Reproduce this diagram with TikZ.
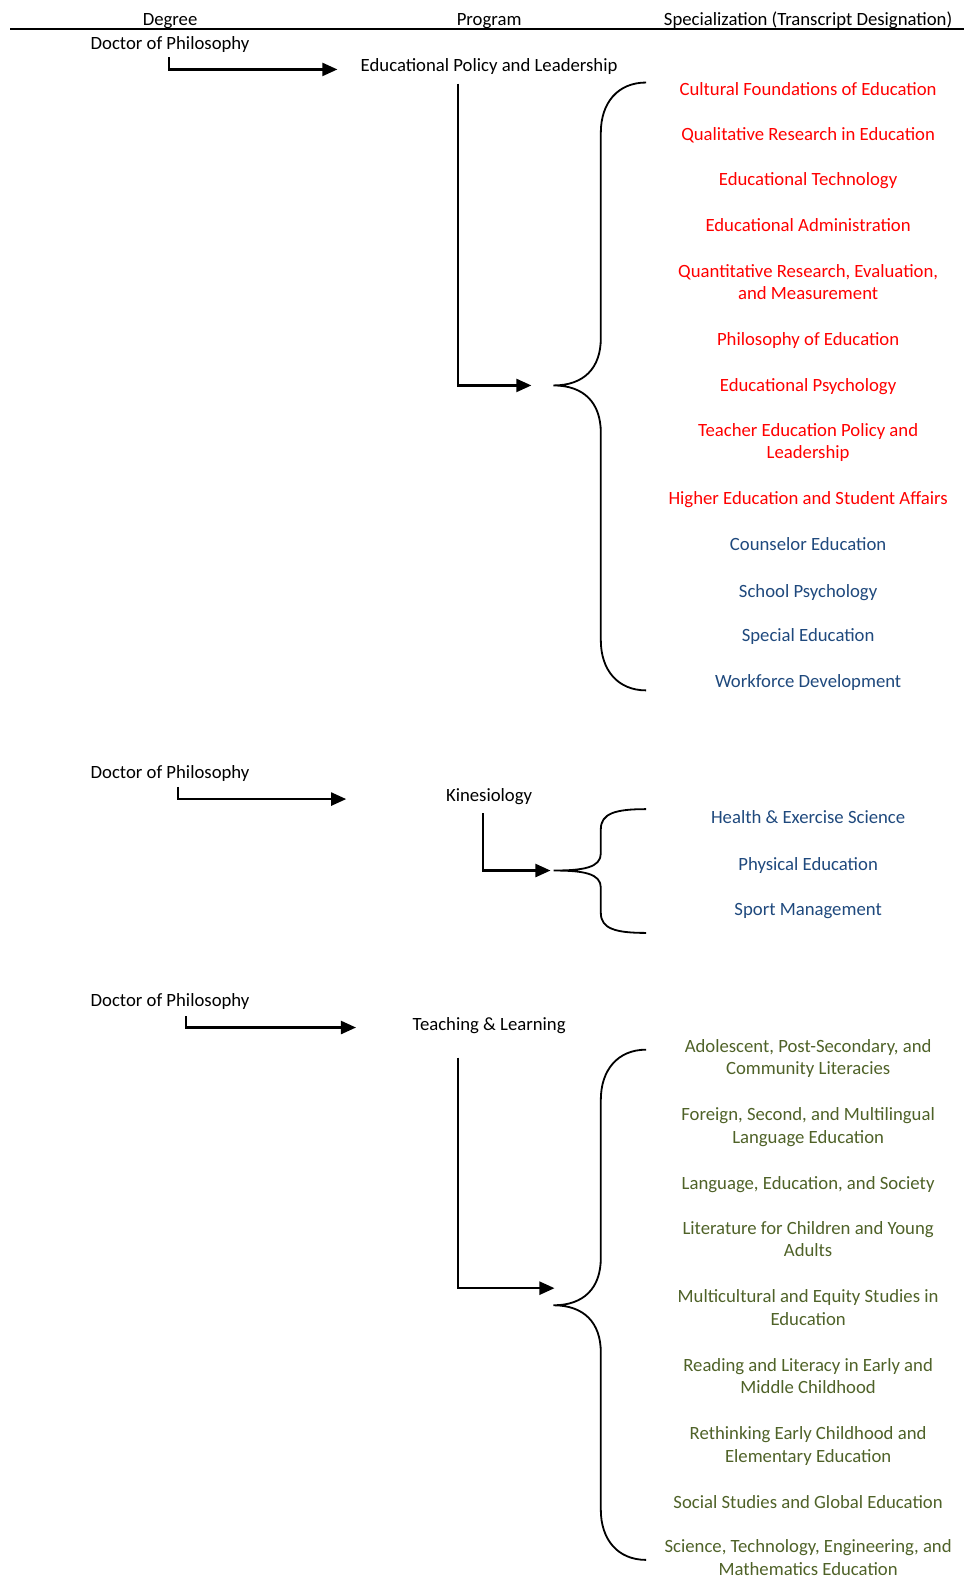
\documentclass[tikz,border=0pt]{standalone}
\usepackage{fontspec}
\setmainfont{Carlito}
\usetikzlibrary{arrows.meta}
\definecolor{specred}{RGB}{255,0,0}
\definecolor{specblue}{RGB}{31,73,125}
\definecolor{specgreen}{RGB}{79,98,40}
\tikzset{
  lbl/.style={font=\fontsize{18.6}{22.5}\selectfont, inner sep=0pt, align=center, anchor=base},
  elbow/.style={line width=2.2pt, -{Triangle[length=15pt,width=13pt]}},
  brace/.style={line width=1.8pt},
}

\begin{document}
\begin{tikzpicture}[x=1pt,y=-1pt]
\useasboundingbox (0,0) rectangle (958,1568);

% header
\node[lbl] (hdeg) at (169,25.5) {Degree};
\node[lbl] (hprog) at (486,25.5) {Program};
\node[lbl] (hspec) at (803,25.5) {Specialization (Transcript Designation)};
\draw[line width=2pt] (10,29) -- (958,29);

% Educational Policy and Leadership
\node[lbl] (phd1) at (169,49.5) {Doctor of Philosophy};
\node[lbl] (epl) at (486,71.5) {Educational Policy and Leadership};
\coordinate (eplbrace) at (550,383);
\draw[elbow] ([xshift=-1pt,yshift=-7.5pt]phd1.base) |- ([xshift=-23pt,yshift=2.5pt]epl.base west);
\draw[elbow, shorten >=22pt] ([xshift=-31pt,yshift=-11.5pt]epl.base) |- (eplbrace);
\draw[brace] (642,82) .. controls (614,82) and (597,102) .. (597,132) -- (597,336)
  .. controls (597,366) and (580,383) .. (eplbrace)
  .. controls (580,383) and (597,400) .. (597,430) -- (597,636)
  .. controls (597,666) and (614,686) .. (642,686);

% (two-line names sit on the base of their last line)
\node[lbl, text=specred] (ep1) at (803,94.5) {Cultural Foundations of Education};
\node[lbl, text=specred] (ep2) at (803,139.5) {Qualitative Research in Education};
\node[lbl, text=specred] (ep3) at (803,184.5) {Educational Technology};
\node[lbl, text=specred] (ep4) at (803,230.5) {Educational Administration};
\node[lbl, text=specred] (ep5) at (803,298) {Quantitative Research, Evaluation,\\and Measurement};
\node[lbl, text=specred] (ep6) at (803,343.5) {Philosophy of Education};
\node[lbl, text=specred] (ep7) at (803,389.5) {Educational Psychology};
\node[lbl, text=specred] (ep8) at (803,456) {Teacher Education Policy and\\Leadership};
\node[lbl, text=specred] (ep9) at (803,501.5) {Higher Education and Student Affairs};
\node[lbl, text=specblue] (ep10) at (803,547.5) {Counselor Education};
\node[lbl, text=specblue] (ep11) at (803,593.5) {School Psychology};
\node[lbl, text=specblue] (ep12) at (803,637.5) {Special Education};
\node[lbl, text=specblue] (ep13) at (803,683.5) {Workforce Development};

% Kinesiology
\node[lbl] (phd2) at (169,773.5) {Doctor of Philosophy};
\node[lbl] (kin) at (486,796.5) {Kinesiology};
\coordinate (kinbrace) at (550,865);
\draw[elbow] ([xshift=8pt,yshift=-8.5pt]phd2.base) |- ([xshift=-99pt,yshift=2.5pt]kin.base west);
\draw[elbow, shorten >=3pt] ([xshift=-6pt,yshift=-11.5pt]kin.base) |- (kinbrace);
\draw[brace] (642,804) .. controls (612,804) and (597,808) .. (597,824) -- (597,848)
  .. controls (597,862) and (580,865) .. (kinbrace)
  .. controls (580,865) and (597,868) .. (597,882) -- (597,907)
  .. controls (597,923) and (612,927) .. (642,927);

\node[lbl, text=specblue] (kin1) at (803,818.5) {Health \& Exercise Science};
\node[lbl, text=specblue] (kin2) at (803,864.5) {Physical Education};
\node[lbl, text=specblue] (kin3) at (803,909.5) {Sport Management};

% Teaching & Learning
\node[lbl] (phd3) at (169,1000.5) {Doctor of Philosophy};
\node[lbl] (tl) at (486,1023.5) {Teaching \& Learning};
\coordinate (tlbrace) at (550,1297);
\draw[elbow] ([xshift=16pt,yshift=-9.5pt]phd3.base) |- ([xshift=-56pt,yshift=2.5pt]tl.base west);
\draw[elbow] ([xshift=-31pt,yshift=-27.5pt]tl.base) |- ([xshift=1pt,yshift=17pt]tlbrace);
\draw[brace] (642,1043) .. controls (614,1043) and (597,1063) .. (597,1093) -- (597,1250)
  .. controls (597,1280) and (580,1297) .. (tlbrace)
  .. controls (580,1297) and (597,1314) .. (597,1344) -- (597,1500)
  .. controls (597,1530) and (614,1550) .. (642,1550);

\node[lbl, text=specgreen] (tl1) at (803,1068) {Adolescent, Post-Secondary, and\\Community Literacies};
\node[lbl, text=specgreen] (tl2) at (803,1136) {Foreign, Second, and Multilingual\\Language Education};
\node[lbl, text=specgreen] (tl3) at (803,1181.5) {Language, Education, and Society};
\node[lbl, text=specgreen] (tl4) at (803,1249) {Literature for Children and Young\\Adults};
\node[lbl, text=specgreen] (tl5) at (803,1317) {Multicultural and Equity Studies in\\Education};
\node[lbl, text=specgreen] (tl6) at (803,1385) {Reading and Literacy in Early and\\Middle Childhood};
\node[lbl, text=specgreen] (tl7) at (803,1453) {Rethinking Early Childhood and\\Elementary Education};
\node[lbl, text=specgreen] (tl8) at (803,1498.5) {Social Studies and Global Education};
\node[lbl, text=specgreen] (tl9) at (803,1565) {Science, Technology, Engineering, and\\Mathematics Education};
\end{tikzpicture}
\end{document}
